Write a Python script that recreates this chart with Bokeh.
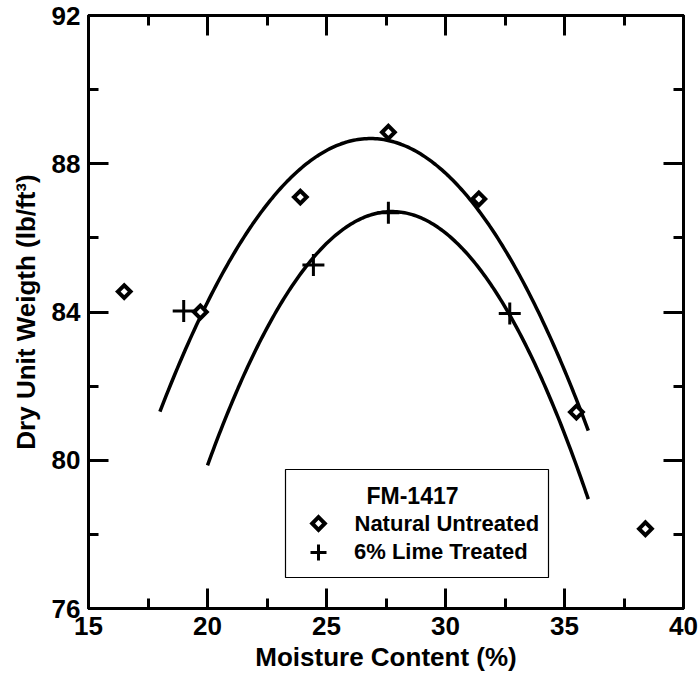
import numpy as np
from bokeh.plotting import figure
from bokeh.models import (LinearAxis, FixedTicker, Range1d, Legend, LegendItem,
                          Label, BoxAnnotation, PolyAnnotation)
from bokeh.embed import file_html
from bokeh.resources import INLINE

# Natural (untreated) soil: moisture content (%) vs dry unit weight (lb/ft^3)
natural_moisture = [16.5, 19.7, 23.9, 27.6, 31.4, 35.5, 38.4]
natural_weight = [84.55, 84.0, 87.1, 88.85, 87.05, 81.3, 78.15]

# 6% lime treated soil
lime_moisture = [19.0, 24.45, 27.6, 32.7]
lime_weight = [84.03, 85.27, 86.68, 83.96]

# Compaction curves (vertex form): optimum moisture, max dry weight, curvature, span
natural_curve = dict(peak_x=26.85, peak_y=88.68, k=0.0941, x0=18.0, x1=36.0)
lime_curve = dict(peak_x=27.75, peak_y=86.71, k=0.114, x0=20.0, x1=36.0)

x_major = [15, 20, 25, 30, 35, 40]
x_minor = [17.5, 22.5, 27.5, 32.5, 37.5]
y_major = [76, 80, 84, 88, 92]
y_minor = [78, 82, 86, 90]

FONT = "Liberation Sans"


def curve_points(c, n=200):
    xs = np.linspace(c["x0"], c["x1"], n)
    ys = c["peak_y"] - c["k"] * (xs - c["peak_x"]) ** 2
    return xs, ys


p = figure(width=699, height=689, x_range=Range1d(15, 40), y_range=Range1d(76, 92),
           output_backend="svg", toolbar_location=None,
           min_border_left=88, min_border_right=16, min_border_top=15, min_border_bottom=81)
p.grid.visible = False
p.background_fill_color = "white"
p.border_fill_color = "white"
p.outline_line_color = "black"
p.outline_line_width = 3


def style_axis(ax, ticker, show_labels):
    ax.ticker = ticker
    ax.axis_line_width = 3
    ax.axis_line_color = "black"
    ax.major_tick_line_width = 3
    ax.minor_tick_line_width = 3
    ax.major_tick_in = 20
    ax.major_tick_out = 0
    ax.minor_tick_in = 10
    ax.minor_tick_out = 0
    ax.major_tick_line_color = "black"
    ax.minor_tick_line_color = "black"
    if show_labels:
        ax.major_label_text_font = FONT
        ax.major_label_text_font_style = "bold"
        ax.major_label_text_font_size = "26px"
        ax.major_label_text_color = "black"
        ax.axis_label_text_font = FONT
        ax.axis_label_text_font_style = "bold"
        ax.axis_label_text_font_size = "26px"
        ax.axis_label_text_color = "black"
    else:
        # mirror axes carry ticks only
        ax.major_label_text_color = None
        ax.major_label_text_font_size = "1px"
        ax.major_label_standoff = 0


xt = FixedTicker(ticks=x_major, minor_ticks=x_minor)
yt = FixedTicker(ticks=y_major, minor_ticks=y_minor)

style_axis(p.xaxis[0], xt, True)
style_axis(p.yaxis[0], yt, True)
p.xaxis[0].axis_label = "Moisture Content (%)"
p.yaxis[0].axis_label = "Dry Unit Weigth (lb/ft³)"
p.xaxis[0].major_label_standoff = 8
p.xaxis[0].axis_label_standoff = 4
p.yaxis[0].major_label_standoff = 8
p.yaxis[0].axis_label_standoff = 8

top_ax = LinearAxis()
style_axis(top_ax, FixedTicker(ticks=x_major, minor_ticks=x_minor), False)
p.add_layout(top_ax, "above")
right_ax = LinearAxis()
style_axis(right_ax, FixedTicker(ticks=y_major, minor_ticks=y_minor), False)
p.add_layout(right_ax, "right")

# fitted compaction curves
for c in (natural_curve, lime_curve):
    xs, ys = curve_points(c)
    p.line(xs, ys, line_color="black", line_width=3.5)

r_nat = p.scatter(natural_moisture, natural_weight, marker="square", angle=np.pi / 4,
                  size=9, fill_color="white", line_color="black", line_width=4,
                  line_join="miter")
r_lime = p.scatter(lime_moisture, lime_weight, marker="cross", size=22,
                   line_color="black", line_width=3)

# legend panel (screen units, relative to the plot frame)
box = BoxAnnotation(left=197, right=460, bottom=31, top=139,
                    left_units="screen", right_units="screen",
                    bottom_units="screen", top_units="screen",
                    fill_alpha=0, line_color="black", line_alpha=1.0, line_width=1.2)
p.add_layout(box)
p.add_layout(Label(x=324, y=113, x_units="screen", y_units="screen", text="FM-1417",
                   text_font=FONT, text_font_style="bold", text_font_size="23px",
                   text_align="center", text_baseline="middle", text_color="black"))

# legend row 1: open diamond key + label
cx, cy, d = 230, 85, 6.3
p.add_layout(PolyAnnotation(xs=[cx, cx + d, cx, cx - d], ys=[cy + d, cy, cy - d, cy],
                            xs_units="screen", ys_units="screen",
                            fill_color="white", fill_alpha=1.0,
                            line_color="black", line_alpha=1.0, line_width=4,
                            line_join="miter"))
p.add_layout(Label(x=266, y=cy, x_units="screen", y_units="screen",
                   text="Natural Untreated", text_font=FONT, text_font_style="bold",
                   text_font_size="22px", text_align="left", text_baseline="middle",
                   text_color="black"))

# legend row 2: cross key from the lime-treated renderer
lg = Legend(items=[LegendItem(label="6% Lime Treated", renderers=[r_lime])],
            location=(210, 36), padding=0, margin=0, spacing=0,
            glyph_width=40, glyph_height=40, label_height=40, label_standoff=16,
            label_text_font=FONT, label_text_font_style="bold",
            label_text_font_size="22px", label_text_color="black",
            border_line_alpha=0, background_fill_alpha=0)
p.add_layout(lg, "center")

open("out.html", "w").write(file_html(p, INLINE))
